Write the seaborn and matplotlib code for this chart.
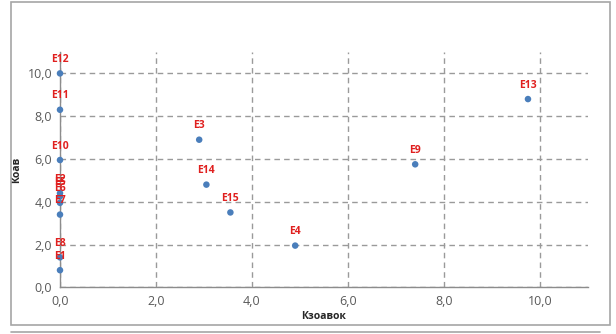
import matplotlib
matplotlib.use("Agg")
import matplotlib.pyplot as plt
import seaborn as sns
import pandas as pd
from matplotlib.ticker import FuncFormatter, MultipleLocator
from matplotlib.patches import Rectangle

labels = ["E1", "E2", "E3", "E4", "E5", "E6", "E7", "E8", "E9", "E10", "E11", "E12", "E13", "E14", "E15"]
kzoavok = [0.0, 0.0, 2.9, 4.9, 0.0, 0.0, 0.0, 0.0, 7.4, 0.0, 0.0, 0.0, 9.75, 3.05, 3.55]
koav = [0.8, 4.4, 6.9, 1.95, 4.25, 3.95, 3.4, 1.4, 5.75, 5.95, 8.3, 10.0, 8.8, 4.8, 3.5]

df = pd.DataFrame({"Кзоавок": kzoavok, "Коав": koav, "label": labels})

sns.set_style("white")
plt.rcParams["font.family"] = ["Open Sans", "DejaVu Sans"]

fig = plt.figure(figsize=(6.16, 3.34), dpi=100)
ax = fig.add_axes([0.0974, 0.1398, 0.8571, 0.7045])

sns.scatterplot(data=df, x="Кзоавок", y="Коав", ax=ax, color="#4a7ebb",
                s=22, edgecolor="none", zorder=5, clip_on=False)

for lab, xv, yv in zip(labels, kzoavok, koav):
    ax.annotate(lab, (xv, yv), xytext=(0, 10), textcoords="offset points",
                ha="center", va="center", color="#e0201f", fontsize=7.5,
                fontweight="bold", zorder=6)

ax.set_xlim(0, 11)
ax.set_ylim(0, 11)
ax.xaxis.set_major_locator(MultipleLocator(2))
ax.yaxis.set_major_locator(MultipleLocator(2))
fmt = FuncFormatter(lambda v, p: f"{v:.1f}".replace(".", ","))
ax.xaxis.set_major_formatter(fmt)
ax.yaxis.set_major_formatter(fmt)

ax.grid(True, linestyle=(0, (4, 3)), color="#9a9a9a", linewidth=1.0)
ax.set_axisbelow(True)
for side in ["top", "right"]:
    ax.spines[side].set_visible(False)
for side in ["left", "bottom"]:
    ax.spines[side].set_color("#8c8c8c")
    ax.spines[side].set_linewidth(1.0)
ax.tick_params(axis="both", direction="inout", length=5, width=1,
               color="#8c8c8c", labelcolor="#595959", labelsize=9, pad=3)

ax.set_xlabel("Кзоавок", fontsize=7.5, fontweight="bold", color="#262626", labelpad=2)
ax.set_ylabel("Коав", fontsize=7.5, fontweight="bold", color="#262626", labelpad=4)

fig.patches.append(Rectangle((11 / 616, 1 - 325 / 334), (610 - 11) / 616, (325 - 2) / 334,
                             transform=fig.transFigure, fill=False,
                             edgecolor="#a6a6a6", linewidth=1.2))
fig.lines.append(plt.Line2D([11 / 616, 600 / 616], [1 - 332 / 334, 1 - 332 / 334],
                            transform=fig.transFigure, color="#a6a6a6", linewidth=1.2))

fig.savefig("out.png", dpi=100)
